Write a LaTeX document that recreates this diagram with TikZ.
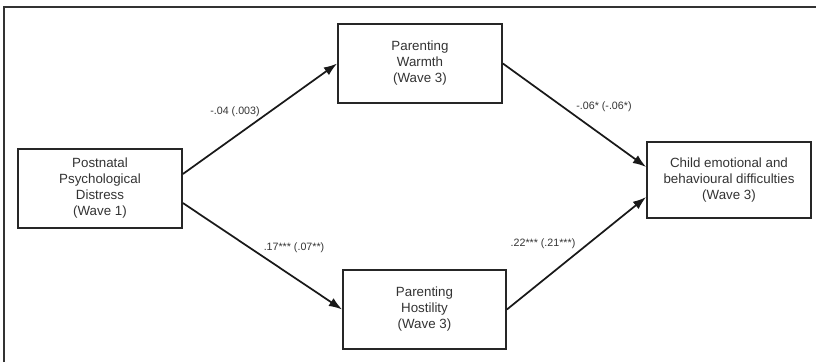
\documentclass[tikz,border=0pt]{standalone}
\usepackage{fontspec}
\setmainfont{Liberation Sans}
\usetikzlibrary{arrows.meta,calc}
\begin{document}
\begin{tikzpicture}[x=0.75pt,y=-0.75pt,
  box/.style={draw=black!85,line width=1.3pt,fill=white,align=center,inner sep=0pt,
    font=\fontsize{10}{12}\selectfont,text=black!80},
  path/.style={draw=black!90,line width=1.3pt,-{Latex[length=10pt,width=7pt]}},
  coef/.style={font=\fontsize{8}{10}\selectfont,text=black!80,inner sep=1pt}]
\useasboundingbox (0,0) rectangle (816,362);
\draw[line width=0.8pt,black!80] (4,362) -- (4,7) -- (816,7);
\node[box,minimum width=164*0.75pt,minimum height=79*0.75pt] (post) at (100,188.5) {Postnatal\\Psychological\\Distress\\(Wave 1)};
\node[box,minimum width=164*0.75pt,minimum height=79*0.75pt] (warm) at (420,63.5) {Parenting\\Warmth\\(Wave 3)};
\node[box,minimum width=163*0.75pt,minimum height=79*0.75pt] (host) at (424.5,309.5) {Parenting\\Hostility\\(Wave 3)};
\node[box,minimum width=164*0.75pt,minimum height=76*0.75pt] (child) at (729,180) {Child emotional and\\behavioural difficulties\\(Wave 3)};
\draw[path] ($(post.east)+(0,-14.5)$) -- (warm.west);
\draw[path] ($(post.east)+(0,14.5)$) -- (host.west);
\draw[path] (warm.east) -- ($(child.west)+(0,-13)$);
\draw[path] (host.east) -- ($(child.west)+(0,17)$);
\node[coef] (c1) at (235,112) {-.04 (.003)};
\node[coef] (c2) at (604,107) {-.06* (-.06*)};
\node[coef] (c3) at (294,248) {.17*** (.07**)};
\node[coef] (c4) at (543,244) {.22*** (.21***)};
\end{tikzpicture}
\end{document}
